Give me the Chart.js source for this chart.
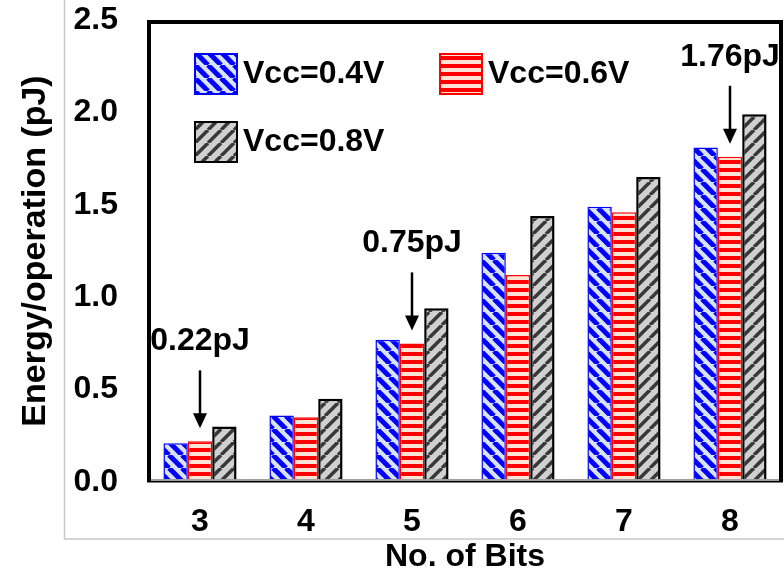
<!DOCTYPE html>
<html>
<head>
<meta charset="utf-8">
<script src="https://cdn.jsdelivr.net/npm/chart.js@4.4.1/dist/chart.umd.min.js"></script>
<style>
body{margin:0;background:#fff;}
#wrap{width:784px;height:576px;}
</style>
</head>
<body>
<div id="wrap"><canvas id="energyChart" width="784" height="576"></canvas></div>
<script>
const bits = ["3","4","5","6","7","8"];
const vcc04 = [0.21,0.36,0.77,1.24,1.49,1.81];
const vcc06 = [0.22,0.35,0.75,1.12,1.46,1.76];
const vcc08 = [0.30,0.45,0.94,1.44,1.65,1.99];
const seriesNames = ["Vcc=0.4V","Vcc=0.6V","Vcc=0.8V"];
const yTicks = [0,0.5,1.0,1.5,2.0,2.5];
const noteBits = ["3","5","8"];
const noteLabels = ["0.22pJ","0.75pJ","1.76pJ"];

const FONT = "'Liberation Sans', Arial, sans-serif";
Chart.defaults.font.family = FONT;

const canvas = document.getElementById("energyChart");
const ctx = canvas.getContext("2d");

// hatch fills like the office chart
function hatch(kind){
const s = kind==="h" ? 8 : 13;
const c = document.createElement("canvas");
c.width = s;
c.height = s;
const g = c.getContext("2d");
if(kind==="h"){
g.fillStyle = "#fbe3d5";
g.fillRect(0,0,s,s);
g.fillStyle = "#ff0000";
g.fillRect(0,0,s,4);
}else{
g.fillStyle = kind==="b" ? "#dae3f3" : "#d0d0d0";
g.fillRect(0,0,s,s);
g.strokeStyle = kind==="b" ? "#0000ff" : "#383838";
g.lineWidth = kind==="b" ? 5 : 3.5;
for(let k=-1;k<=1;k++){
g.beginPath();
if(kind==="b"){ g.moveTo(k*s,0); g.lineTo(k*s+s,s); }
else{ g.moveTo(k*s,s); g.lineTo(k*s+s,0); }
g.stroke();
}
}
return ctx.createPattern(c,"repeat");
}

const fills = [hatch("b"),hatch("h"),hatch("g")];
const edges = ["#0000ff","#ff0000","#000000"];
const edgeWidths = [1.5,1.5,2.5];

const outerBox = {
id:"outerBox",
beforeDraw(chart){
const c = chart.ctx;
c.save();
c.strokeStyle = "#c8c8c8";
c.lineWidth = 1.5;
c.beginPath();
c.moveTo(64.5,0);
c.lineTo(64.5,539);
c.lineTo(784,539);
c.stroke();
c.restore();
}
};

const frame = {
id:"frame",
afterDatasetsDraw(chart){
const c = chart.ctx;
const a = chart.chartArea;
c.save();
c.fillStyle = "#a0a0a0";
c.fillRect(a.left,a.bottom-3,a.right-a.left,3);
c.fillStyle = "#000";
c.fillRect(a.left,a.bottom-1,a.right-a.left,1.5);
c.strokeStyle = "#000";
c.lineWidth = 4;
c.beginPath();
c.moveTo(a.left+2,a.bottom);
c.lineTo(a.left+2,a.top+2);
c.lineTo(a.right-2,a.top+2);
c.lineTo(a.right-2,a.bottom);
c.stroke();
c.restore();
}
};

const notes = {
id:"notes",
afterDatasetsDraw(chart){
const c = chart.ctx;
const meta = chart.getDatasetMeta(1);
c.save();
c.fillStyle = "#000";
c.strokeStyle = "#000";
c.font = "bold 32px " + FONT;
c.textAlign = "center";
c.textBaseline = "alphabetic";
noteBits.forEach((b,n)=>{
const bar = meta.data[bits.indexOf(b)];
const x = bar.x;
const tip = bar.y - 13;
const tail = tip - 58;
c.lineWidth = 2.5;
c.beginPath();
c.moveTo(x,tail);
c.lineTo(x,tip-12);
c.stroke();
c.beginPath();
c.moveTo(x-7,tip-15);
c.lineTo(x+7,tip-15);
c.lineTo(x,tip);
c.closePath();
c.fill();
c.fillText(noteLabels[n],x,tail-20);
});
c.restore();
}
};

const boxLegend = {
id:"boxLegend",
afterDraw(chart){
const c = chart.ctx;
const a = chart.chartArea;
const spots = [[0,0],[1,0],[0,1]];
c.save();
c.font = "bold 32px " + FONT;
c.textBaseline = "middle";
c.textAlign = "left";
chart.data.datasets.forEach((ds,i)=>{
const x = a.left + 47 + spots[i][0]*245;
const y = a.top + 33 + spots[i][1]*68;
c.fillStyle = ds.backgroundColor;
c.fillRect(x,y,44,42);
c.strokeStyle = ds.borderColor;
c.lineWidth = 2;
c.strokeRect(x+1,y+1,42,40);
c.fillStyle = "#000";
c.fillText(ds.label,x+49,y+21);
});
c.restore();
}
};

new Chart(canvas,{
type:"bar",
data:{
labels:bits,
datasets:[vcc04,vcc06,vcc08].map((d,i)=>({
label:seriesNames[i],
data:d,
backgroundColor:fills[i],
borderColor:edges[i],
borderWidth:edgeWidths[i],
categoryPercentage:0.69,
barPercentage:1
}))
},
options:{
responsive:false,
animation:false,
layout:{padding:{top:20,right:1,left:0,bottom:0}},
plugins:{
legend:{display:false},
tooltip:{enabled:false}
},
scales:{
x:{
grid:{display:false,drawTicks:false},
border:{display:false},
ticks:{color:"#000",font:{size:32,weight:"bold"},padding:21},
title:{display:true,text:"No. of Bits",color:"#000",font:{size:32,weight:"bold"},padding:0},
afterFit(s){ s.height = 94; s.paddingLeft = 0; s.paddingRight = 0; }
},
y:{
min:0,
max:2.5,
afterBuildTicks(s){ s.ticks = yTicks.map(v=>({value:v})); },
grid:{display:false,drawTicks:false},
border:{display:false},
ticks:{color:"#000",font:{size:32,weight:"bold"},padding:29,callback:v=>Number(v).toFixed(1)},
title:{display:true,text:"Energy/operation (pJ)",color:"#000",font:{size:34,weight:"bold"},padding:{top:15.6,bottom:0}},
afterFit(s){ s.width = 147; s.paddingTop = 0; s.paddingBottom = 0; }
}
}
},
plugins:[outerBox,frame,notes,boxLegend]
});
</script>
</body>
</html>
